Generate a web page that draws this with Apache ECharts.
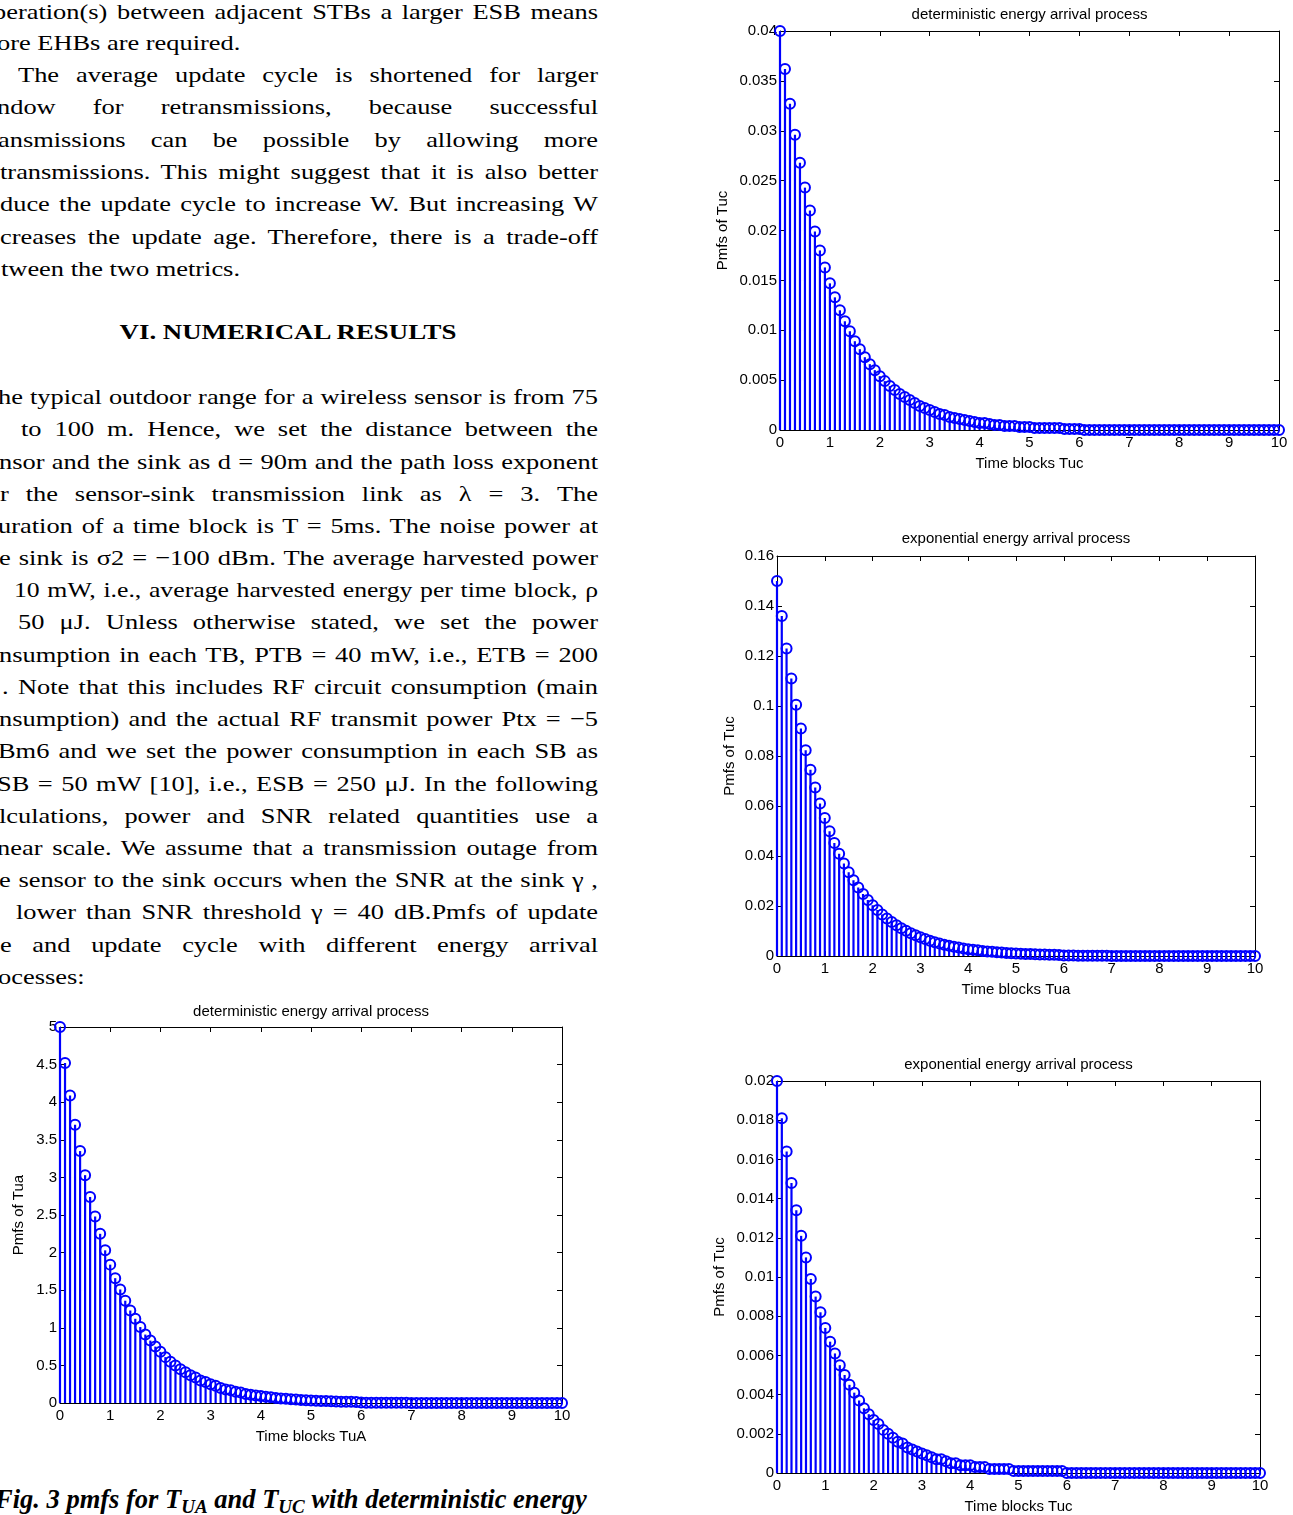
<!DOCTYPE html>
<html>
<head>
    <meta charset="utf-8">
    <title>pmfs for TUA and TUC</title>
    <script src="https://cdn.jsdelivr.net/npm/echarts@6/dist/echarts.min.js"></script>
</head>
<style>
    html, body {
        margin: 0;
        padding: 0;
        background: #fff;
    }
    .page {
        position: relative;
        width: 1293px;
        height: 1515px;
        overflow: hidden;
        background: #fff;
    }
    .line {
        position: absolute;
        height: 32px;
        line-height: 32px;
        font-family: "Liberation Serif", "DejaVu Serif", serif;
        font-size: 22px;
        color: #000;
        white-space: nowrap;
        transform-origin: 0 50%;
    }
    .just {
        text-align: justify;
        text-align-last: justify;
    }
    .head {
        position: absolute;
        left: 288px;
        width: 0;
        font-family: "Liberation Serif", serif;
        font-weight: bold;
        font-size: 22px;
        line-height: 32px;
        white-space: nowrap;
    }
    .head span {
        display: inline-block;
        transform: translateX(-50%) scaleX(1.22);
    }
    .caption {
        position: absolute;
        left: -5px;
        top: 1484px;
        font-family: "Liberation Serif", serif;
        font-weight: bold;
        font-style: italic;
        font-size: 26.5px;
        white-space: nowrap;
    }
    .caption sub {
        font-size: 19px;
        vertical-align: -5px;
    }
    #chart {
        position: absolute;
        left: 0;
        top: 0;
        width: 1293px;
        height: 1515px;
        z-index: 5;
    }
</style>
<body>
<div class="page" id="page">
    <div class="head" style="top:316px"><span>VI. NUMERICAL RESULTS</span></div>
    <div class="caption">Fig. 3 pmfs for T<sub>UA</sub> and T<sub>UC</sub> with deterministic energy</div>
    <div id="chart"></div>
</div>
<script type="text/javascript">
    // x positions of the stems (time blocks)
    var timeBlocks = [
        0, 0.1, 0.2, 0.3, 0.4, 0.5, 0.6, 0.7, 0.8, 0.9,
        1, 1.1, 1.2, 1.3, 1.4, 1.5, 1.6, 1.7, 1.8, 1.9,
        2, 2.1, 2.2, 2.3, 2.4, 2.5, 2.6, 2.7, 2.8, 2.9,
        3, 3.1, 3.2, 3.3, 3.4, 3.5, 3.6, 3.7, 3.8, 3.9,
        4, 4.1, 4.2, 4.3, 4.4, 4.5, 4.6, 4.7, 4.8, 4.9,
        5, 5.1, 5.2, 5.3, 5.4, 5.5, 5.6, 5.7, 5.8, 5.9,
        6, 6.1, 6.2, 6.3, 6.4, 6.5, 6.6, 6.7, 6.8, 6.9,
        7, 7.1, 7.2, 7.3, 7.4, 7.5, 7.6, 7.7, 7.8, 7.9,
        8, 8.1, 8.2, 8.3, 8.4, 8.5, 8.6, 8.7, 8.8, 8.9,
        9, 9.1, 9.2, 9.3, 9.4, 9.5, 9.6, 9.7, 9.8, 9.9,
        10
    ];

    // top right: deterministic, Tuc
    var pmfDetTuc = [
        0.0400, 0.0362, 0.0327, 0.0296, 0.0268, 0.0243, 0.0220, 0.0199, 0.0180, 0.0163,
        0.0147, 0.0133, 0.0120, 0.0109, 0.0099, 0.0089, 0.0081, 0.0073, 0.0066, 0.0060,
        0.0054, 0.0049, 0.0044, 0.0040, 0.0036, 0.0033, 0.0030, 0.0027, 0.0024, 0.0022,
        0.0020, 0.0018, 0.0016, 0.0015, 0.0013, 0.0012, 0.0011, 0.0010, 0.0009, 0.0008,
        0.0007, 0.0007, 0.0006, 0.0005, 0.0005, 0.0004, 0.0004, 0.0004, 0.0003, 0.0003,
        0.0003, 0.0002, 0.0002, 0.0002, 0.0002, 0.0002, 0.0002, 0.0001, 0.0001, 0.0001,
        0.0001, 0, 0, 0, 0, 0, 0, 0, 0, 0,
        0, 0, 0, 0, 0, 0, 0, 0, 0, 0,
        0, 0, 0, 0, 0, 0, 0, 0, 0, 0,
        0, 0, 0, 0, 0, 0, 0, 0, 0, 0,
        0
    ];
    // middle right: exponential, Tua
    var pmfExpTua = [
        0.150, 0.136, 0.123, 0.111, 0.1005, 0.091, 0.0823, 0.0745, 0.0674, 0.0610,
        0.0552, 0.0499, 0.0452, 0.0409, 0.0370, 0.0335, 0.0303, 0.0274, 0.0248, 0.0224,
        0.0203, 0.0184, 0.0166, 0.0150, 0.0136, 0.0123, 0.0111, 0.0101, 0.0091, 0.0083,
        0.0075, 0.0068, 0.0061, 0.0055, 0.0050, 0.0045, 0.0041, 0.0037, 0.0034, 0.0030,
        0.0027, 0.0025, 0.0023, 0.0020, 0.0018, 0.0017, 0.0015, 0.0014, 0.0012, 0.0011,
        0.0010, 0.0009, 0.0008, 0.0008, 0.0007, 0.0006, 0.0006, 0.0005, 0.0005, 0.0004,
        0.0002, 0.0002, 0.0002, 0.0001, 0.0001, 0.0001, 0.0001, 0.0001, 0.0001, 0.0001,
        0, 0, 0, 0, 0, 0, 0, 0, 0, 0,
        0, 0, 0, 0, 0, 0, 0, 0, 0, 0,
        0, 0, 0, 0, 0, 0, 0, 0, 0, 0,
        0
    ];
    // bottom right: exponential, Tuc
    var pmfExpTuc = [
        0.0200, 0.0181, 0.0164, 0.0148, 0.0134, 0.0121, 0.0110, 0.0099, 0.0090, 0.0082,
        0.0074, 0.0067, 0.0061, 0.0055, 0.0050, 0.0045, 0.0041, 0.0037, 0.0033, 0.0030,
        0.0027, 0.0025, 0.0022, 0.0020, 0.0018, 0.0016, 0.0015, 0.0013, 0.0012, 0.0011,
        0.0010, 0.0009, 0.0008, 0.0007, 0.0007, 0.0006, 0.0005, 0.0005, 0.0004, 0.0004,
        0.0004, 0.0003, 0.0003, 0.0003, 0.0002, 0.0002, 0.0002, 0.0002, 0.0002, 0.0001,
        0.0001, 0.0001, 0.0001, 0.0001, 0.0001, 0.0001, 0.0001, 0.0001, 0.0001, 0.0001,
        0, 0, 0, 0, 0, 0, 0, 0, 0, 0,
        0, 0, 0, 0, 0, 0, 0, 0, 0, 0,
        0, 0, 0, 0, 0, 0, 0, 0, 0, 0,
        0, 0, 0, 0, 0, 0, 0, 0, 0, 0,
        0
    ];
    // bottom left: deterministic, TuA
    var pmfDetTua = [
        5.00, 4.52, 4.09, 3.70, 3.35, 3.03, 2.74, 2.48, 2.25, 2.03,
        1.84, 1.66, 1.51, 1.36, 1.23, 1.12, 1.01, 0.91, 0.83, 0.75,
        0.68, 0.61, 0.55, 0.50, 0.45, 0.41, 0.37, 0.34, 0.30, 0.28,
        0.25, 0.23, 0.20, 0.18, 0.17, 0.15, 0.14, 0.12, 0.11, 0.10,
        0.092, 0.083, 0.075, 0.068, 0.061, 0.056, 0.050, 0.045, 0.041, 0.037,
        0.034, 0.030, 0.028, 0.025, 0.023, 0.020, 0.018, 0.017, 0.015, 0.014,
        0.005, 0.004, 0.004, 0.003, 0.003, 0.003, 0.002, 0.002, 0.002, 0.002,
        0, 0, 0, 0, 0, 0, 0, 0, 0, 0,
        0, 0, 0, 0, 0, 0, 0, 0, 0, 0,
        0, 0, 0, 0, 0, 0, 0, 0, 0, 0,
        0
    ];

    var titles = ['deterministic energy arrival process', 'exponential energy arrival process',
        'exponential energy arrival process', 'deterministic energy arrival process'];
    var xNames = ['Time blocks Tuc', 'Time blocks Tua', 'Time blocks Tuc', 'Time blocks TuA'];
    var yNames = ['Pmfs of Tuc', 'Pmfs of Tuc', 'Pmfs of Tuc', 'Pmfs of Tua'];
    var yMax = [0.04, 0.16, 0.02, 5];
    var yStep = [0.005, 0.02, 0.002, 0.5];

    // body text of the page (text, centre y, left offset, justified, stretch)
    var textLines = [
        ['peration(s) between adjacent STBs a larger ESB means', 12, -7, 1],
        ['ore EHBs are required.', 43, -3, 0],
        ['The average update cycle is shortened for larger', 75, 18, 1],
        ['ndow for retransmissions, because successful', 107, -3, 1],
        ['ansmissions can be possible by allowing more', 140, -2, 1],
        ['transmissions. This might suggest that it is also better', 172, 0, 1],
        ['duce the update cycle to increase W. But increasing W', 204, 0, 1],
        ['creases the update age. Therefore, there is a trade-off', 237, 0, 1],
        ['tween the two metrics.', 269, 1, 0],
        ['he typical outdoor range for a wireless sensor is from 75', 397, -2, 1],
        ['to 100 m. Hence, we set the distance between the', 429, 21, 1],
        ['nsor and the sink as d = 90m and the path loss exponent', 462, -1, 1],
        ['r the sensor-sink transmission link as \u03bb = 3. The', 494, 0, 1],
        ['uration of a time block is T = 5ms. The noise power at', 526, -2, 1],
        ['e sink is \u03c32 = \u2212100 dBm. The average harvested power', 558, -1, 1],
        ['10 mW, i.e., average harvested energy per time block, \u03c1', 590, 14, 1, 1.17],
        ['50 \u03bcJ. Unless otherwise stated, we set the power', 622, 18, 1],
        ['nsumption in each TB, PTB = 40 mW, i.e., ETB = 200', 655, -1, 1],
        ['. Note that this includes RF circuit consumption (main', 687, 2, 1],
        ['nsumption) and the actual RF transmit power Ptx = \u22125', 719, -1, 1],
        ['Bm6 and  we set the power consumption in each SB as', 751, -2, 1],
        ['SB = 50 mW [10], i.e., ESB = 250 \u03bcJ. In the following', 784, -3, 1],
        ['lculations, power and SNR related quantities use a', 816, -1, 1],
        ['near scale. We assume that a transmission outage from', 848, -3, 1],
        ['e sensor to the sink occurs when the SNR at the sink \u03b3 ,', 880, -1, 1],
        ['lower than SNR threshold \u03b3 = 40 dB.Pmfs of update', 912, 16, 1],
        ['e and update cycle with different energy arrival', 945, 0, 1],
        ['ocesses:', 977, -2, 0]
    ];

    var page = document.getElementById('page');
    textLines.forEach(function (t) {
        var s = t[4] || 1.2;
        var d = document.createElement('div');
        d.className = 'line' + (t[3] ? ' just' : '');
        d.textContent = t[0];
        d.style.top = (t[1] - 16) + 'px';
        d.style.left = t[2] + 'px';
        d.style.width = ((598 - t[2]) / s) + 'px';
        d.style.transform = 'scaleX(' + s + ')';
        page.appendChild(d);
    });

    // panel boxes in pixels: left, top, width, height
    var boxes = [
        [780, 31, 499, 399],
        [777, 556, 478, 400],
        [777, 1081, 483, 394],
        [60, 1027, 502, 376]
    ];
    var yNameGap = [50, 40, 50, 34];
    var titleY = [15, 539, 1065, 1012];
    var pmfs = [pmfDetTuc, pmfExpTua, pmfExpTuc, pmfDetTua];

    var blue = '#0000ff';
    var font = 'Liberation Sans, Arial, sans-serif';
    var grids = [], xAxes = [], yAxes = [], series = [], graphics = [];

    boxes.forEach(function (b, i) {
        grids.push({left: b[0], top: b[1], width: b[2], height: b[3], show: false});
        var tick = {show: true, inside: true, length: 5, lineStyle: {color: '#000', width: 1}};
        var line = {show: true, onZero: false, lineStyle: {color: '#000', width: 1}};
        xAxes.push({
            type: 'value', gridIndex: i, position: 'bottom', min: 0, max: 10, interval: 1,
            axisLine: line, axisTick: tick, splitLine: {show: false},
            axisLabel: {color: '#000', fontFamily: font, fontSize: 15, margin: 5},
            name: xNames[i], nameLocation: 'middle', nameGap: 26,
            nameTextStyle: {color: '#000', fontFamily: font, fontSize: 15}
        });
        xAxes.push({
            type: 'value', gridIndex: i, position: 'top', min: 0, max: 10, interval: 1,
            axisLine: line, axisTick: tick, splitLine: {show: false}, axisLabel: {show: false}
        });
        yAxes.push({
            type: 'value', gridIndex: i, position: 'left', min: 0, max: yMax[i], interval: yStep[i],
            axisLine: line, axisTick: tick, splitLine: {show: false},
            axisLabel: {color: '#000', fontFamily: font, fontSize: 15, margin: 3},
            name: yNames[i], nameLocation: 'middle', nameGap: yNameGap[i], nameRotate: 90,
            nameTextStyle: {color: '#000', fontFamily: font, fontSize: 15}
        });
        yAxes.push({
            type: 'value', gridIndex: i, position: 'right', min: 0, max: yMax[i], interval: yStep[i],
            axisLine: line, axisTick: tick, splitLine: {show: false}, axisLabel: {show: false}
        });
        var pts = timeBlocks.map(function (x, k) { return [x, pmfs[i][k]]; });
        series.push({
            type: 'bar', xAxisIndex: i * 2, yAxisIndex: i * 2, data: pts,
            barWidth: 2.2, itemStyle: {color: blue}, silent: true, animation: false, z: 2
        });
        series.push({
            type: 'scatter', xAxisIndex: i * 2, yAxisIndex: i * 2, data: pts,
            symbol: 'circle', symbolSize: 10, clip: false,
            itemStyle: {color: 'rgba(0,0,0,0)', borderColor: blue, borderWidth: 2, opacity: 1},
            silent: true, animation: false, z: 3
        });
        graphics.push({
            type: 'text', x: b[0] + b[2] / 2, y: titleY[i],
            style: {text: titles[i], fill: '#000', font: '15px ' + font, textAlign: 'center', textVerticalAlign: 'middle'}
        });
    });

    var myChart = echarts.init(document.getElementById('chart'), null, {renderer: 'canvas'});
    myChart.setOption({
        animation: false,
        backgroundColor: 'transparent',
        grid: grids,
        xAxis: xAxes,
        yAxis: yAxes,
        series: series,
        graphic: graphics
    });
</script>
</body>
</html>
